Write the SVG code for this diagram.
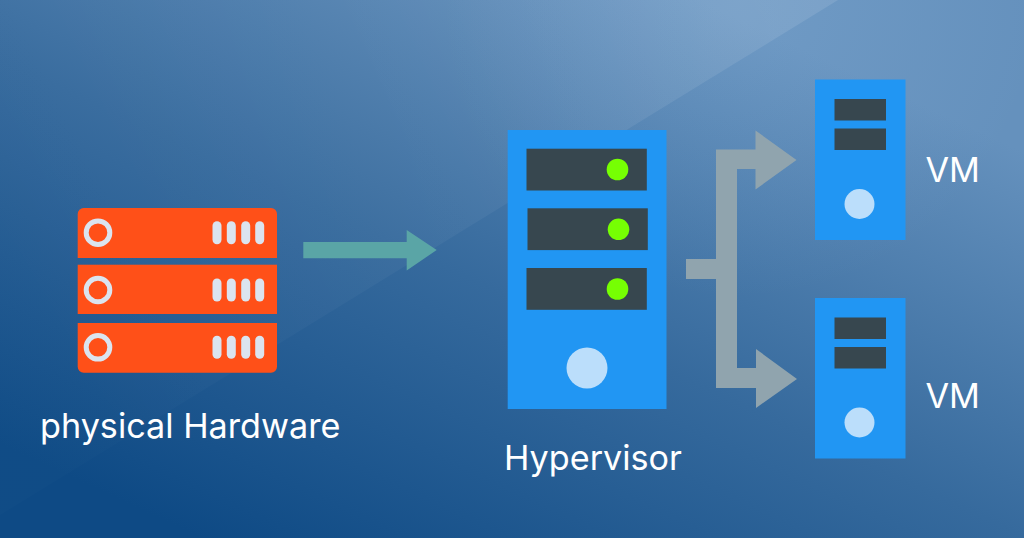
<svg xmlns="http://www.w3.org/2000/svg" width="1024" height="538" viewBox="0 0 1024 538">
<style>
.lbl{font-family:"Inter","Liberation Sans",sans-serif;fill:#fff}
.blue{fill:#2196f3}.slot{fill:#37474f}.led{fill:#76ff03}.disc{fill:#bbdefb}
.bar{fill:#ff5018}.pill{fill:#dbe4ef}.ring{fill:none;stroke:#dbe4ef;stroke-width:5}
</style>
<defs>
<linearGradient id="bg" gradientUnits="userSpaceOnUse" x1="120" y1="500" x2="414" y2="-132">
<stop offset="0" stop-color="#0e4a85"/><stop offset=".5" stop-color="#366a9d"/><stop offset="1" stop-color="#6591bd"/>
</linearGradient>
<linearGradient id="sheen" gradientUnits="userSpaceOnUse" x1="120" y1="440" x2="800" y2="0">
<stop offset="0" stop-color="#fff" stop-opacity=".01"/><stop offset=".5" stop-color="#fff" stop-opacity=".04"/><stop offset="1" stop-color="#fff" stop-opacity=".1"/>
</linearGradient>
<radialGradient id="glow" gradientUnits="userSpaceOnUse" cx="740" cy="0" r="300">
<stop offset="0" stop-color="#a8cdf0" stop-opacity=".16"/><stop offset="1" stop-color="#a8cdf0" stop-opacity="0"/>
</radialGradient>
<g id="row"><circle cx="98" cy="0" r="11.800" class="ring"/>
<rect x="212.500" y="-11.500" width="9" height="23" rx="4.500" class="pill"/><rect x="226.800" y="-11.500" width="9" height="23" rx="4.500" class="pill"/><rect x="241.200" y="-11.500" width="9" height="23" rx="4.500" class="pill"/><rect x="255.200" y="-11.500" width="9" height="23" rx="4.500" class="pill"/></g>
<g id="vm"><rect x="815" y="0" width="90.500" height="160.500" class="blue"/><rect x="834.500" y="19.500" width="51.500" height="21.500" class="slot"/><rect x="834.500" y="49" width="51.500" height="21.500" class="slot"/><circle cx="859.500" cy="124.500" r="15" class="disc"/></g>
</defs>
<g id="background"><rect width="1024" height="538" fill="url(#bg)"/><rect width="1024" height="538" fill="url(#glow)"/><polygon points="0,0 838,0 0,515" fill="url(#sheen)"/></g>
<g id="physical-hardware">
<path class="bar" d="M83.700 208H271a6 6 0 0 1 6 6V258H77.700V214a6 6 0 0 1 6-6Z"/>
<rect x="77.700" y="264.700" width="199.300" height="49.300" class="bar"/>
<path class="bar" d="M77.700 323H277V366.700a6 6 0 0 1-6 6H83.700a6 6 0 0 1-6-6Z"/>
<use href="#row" y="232.700"/><use href="#row" y="290"/><use href="#row" y="347.300"/>
<text class="lbl" x="40" y="438" font-size="34.200">physical Hardware</text>
</g>
<g id="hypervisor">
<rect x="507.700" y="130" width="158.800" height="279" class="blue"/>
<rect x="526.500" y="148.700" width="120.300" height="41.800" class="slot"/><circle cx="617.500" cy="169.500" r="10.800" class="led"/>
<rect x="527.500" y="208.300" width="120.300" height="41.800" class="slot"/><circle cx="618.500" cy="229.300" r="10.800" class="led"/>
<rect x="526.500" y="268" width="120.300" height="41.800" class="slot"/><circle cx="617.500" cy="289" r="10.800" class="led"/>
<circle cx="587" cy="368" r="20.500" class="disc"/>
<text class="lbl" x="504" y="470" font-size="34.200">Hypervisor</text>
</g>
<g id="vm-top"><use href="#vm" y="79.500"/><text class="lbl" x="925.500" y="182" font-size="34.200">VM</text></g>
<g id="vm-bottom"><use href="#vm" y="298"/><text class="lbl" x="925.500" y="408" font-size="34.200">VM</text></g>
<g id="connectors">
<polygon fill="#5aa5a6" points="303.300,242 406.700,242 406.700,230 436.700,250 406.700,270.500 406.700,258.300 303.300,258.300"/>
<polygon fill="#90a4ae" points="686,259 716,259 716,149.500 755.500,149.500 755.500,130.500 796.500,160 755.500,189.500 755.500,169 737,169 737,368 756,368 756,349 797,379 756,408 756,388 716,388 716,279 686,279"/>
</g>
</svg>
